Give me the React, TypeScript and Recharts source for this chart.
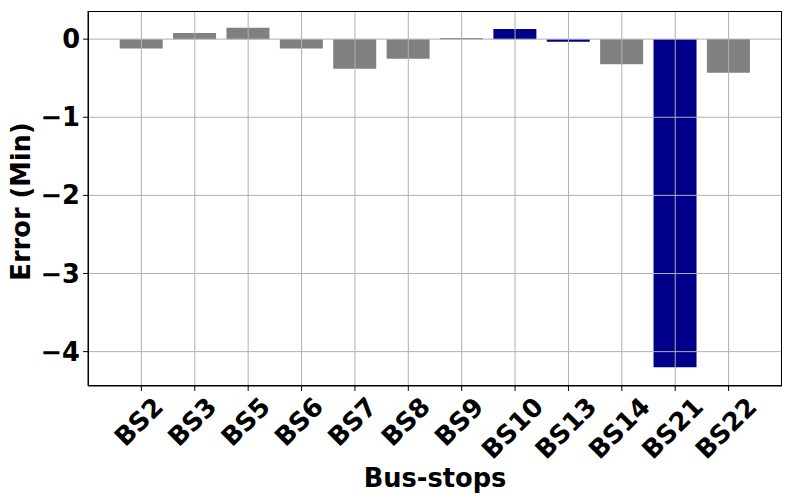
import React from 'react';
import { BarChart, Bar, XAxis, YAxis, ReferenceLine, Cell } from 'recharts';

// bus stop names along the x axis
const busStops = ['BS2', 'BS3', 'BS5', 'BS6', 'BS7', 'BS8', 'BS9', 'BS10', 'BS13', 'BS14', 'BS21', 'BS22'];
// prediction error in minutes
const errors = [-0.12, 0.08, 0.145, -0.12, -0.38, -0.25, 0.015, 0.13, -0.035, -0.32, -4.2, -0.43];
// stops drawn in dark blue
const highlighted = ['BS10', 'BS13', 'BS21'];
const yTicks = [-4, -3, -2, -1, 0];

const data = busStops.map((name, i) => ({ name, error: errors[i] }));

const FONT = '"DejaVu Sans", sans-serif';
const FS = 25.7;
const GRID = '#b0b0b0';

const W = 792;
const H = 504;
const M = { top: 11, right: 10, left: 88, bottom: 118 };

// rough DejaVu Sans Bold advance widths (em)
const charW: Record<string, number> = { B: 0.762, S: 0.72 };
const textWidth = (s: string, size: number) =>
  s.split('').reduce((acc, c) => acc + (charW[c] ?? 0.696), 0) * size;

const BusTick = (props: any) => {
  const { x, y, payload } = props;
  const w = textWidth(String(payload.value), FS);
  const capH = 0.73 * FS;
  const h = (w + capH) * Math.SQRT1_2;
  const cx = x - 3;
  const cy = y + h / 2;
  return (
    <g transform={`translate(${cx},${cy}) rotate(-45)`}>
      <text x={0} y={capH / 2} textAnchor="middle" fontFamily={FONT} fontWeight="bold" fontSize={FS} fill="#000">
        {payload.value}
      </text>
    </g>
  );
};

const App = () => {
  return (
    <div style={{ position: 'absolute', left: 0, top: 0, width: W, height: H, background: '#fff' }}>
      <BarChart width={W} height={H} data={data} margin={{ top: M.top, right: M.right, left: 0, bottom: 0 }}>
        <XAxis
          dataKey="name"
          height={M.bottom}
          padding={{ left: 26.7, right: 26.7 }}
          axisLine={{ stroke: '#000', strokeWidth: 1 }}
          tickLine={{ stroke: '#000' }}
          tickSize={5}
          tickMargin={4}
          interval={0}
          tick={<BusTick />}
          label={(p: any) => {
            const vb = p.viewBox;
            return (
              <text x={vb.x + vb.width / 2} y={487} textAnchor="middle" fontFamily={FONT} fontWeight="bold" fontSize={FS} fill="#000">
                Bus-stops
              </text>
            );
          }}
        />
        <YAxis
          width={M.left}
          domain={[-4.44, 0.36]}
          ticks={yTicks}
          type="number"
          axisLine={{ stroke: '#000', strokeWidth: 1 }}
          tickLine={{ stroke: '#000' }}
          tickSize={5}
          tickMargin={3}
          tick={{ fontFamily: FONT, fontWeight: 'bold', fontSize: FS, fill: '#000' }}
          tickFormatter={(v: number) => String(v).replace('-', '\u2212')}
          label={(p: any) => {
            const vb = p.viewBox;
            const cy = vb.y + vb.height / 2 + 3;
            return (
              <text x={21} y={cy} transform={`rotate(-90, 21, ${cy})`} textAnchor="middle" dominantBaseline="central" fontFamily={FONT} fontWeight="bold" fontSize={FS} fill="#000">
                Error (Min)
              </text>
            );
          }}
        />
        <Bar dataKey="error" barSize={43} isAnimationActive={false}>
          {data.map((d, i) => (
            <Cell key={`cell-${i}`} fill={highlighted.includes(d.name) ? '#00008b' : '#808080'} />
          ))}
        </Bar>
        {yTicks.map((t) => (
          <ReferenceLine key={`gy-${t}`} y={t} stroke={GRID} strokeWidth={1} />
        ))}
        {busStops.map((s) => (
          <ReferenceLine key={`gx-${s}`} x={s} stroke={GRID} strokeWidth={1} />
        ))}
      </BarChart>
      {/* plot frame (top / right spines) */}
      <div
        style={{
          position: 'absolute',
          left: M.left,
          top: M.top,
          width: W - M.left - M.right,
          height: H - M.top - M.bottom,
          border: '1px solid #000',
          boxSizing: 'border-box',
          pointerEvents: 'none',
        }}
      />
    </div>
  );
};

export default App;
